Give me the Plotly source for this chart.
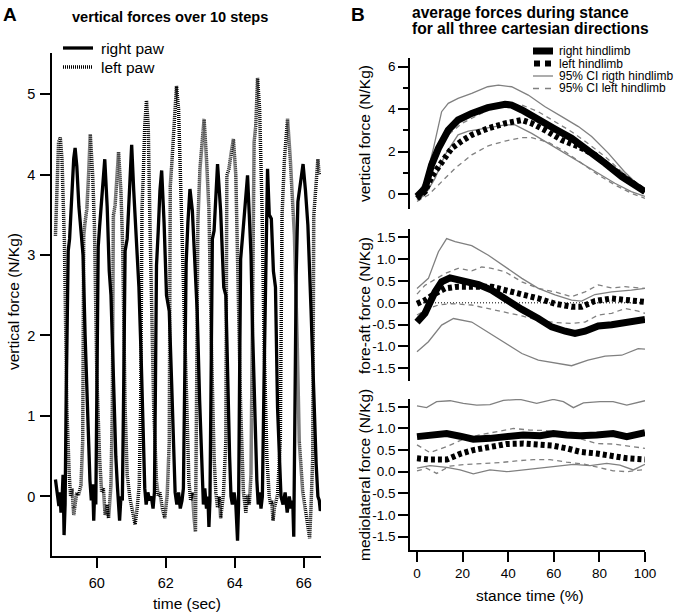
import plotly.graph_objects as go

W, H = 675, 614
FONT = "Liberation Sans, Arial, sans-serif"

# ---------------- Panel A data: vertical forces over 10 steps ----------------
right_paw_t = [58.80, 58.84, 58.87, 58.90, 58.93, 58.96, 58.99, 59.02, 59.05, 59.08,
               59.11, 59.14, 59.17, 59.21, 59.27, 59.33, 59.37, 59.42, 59.48, 59.55, 59.60, 59.66, 59.73, 59.80,
               59.84, 59.88, 59.91, 59.94, 59.97,
               60.00, 60.04, 60.08, 60.15, 60.23, 60.30, 60.36, 60.41, 60.48, 60.55, 60.60,
               60.63, 60.66, 60.70, 60.74,
               60.78, 60.82, 60.88, 60.95, 61.01, 61.07, 61.15, 61.22, 61.28, 61.34, 61.39,
               61.43, 61.48, 61.53, 61.58, 61.63, 61.67,
               61.70, 61.73, 61.78, 61.83, 61.88, 61.95, 62.02, 62.10, 62.17, 62.23, 62.27,
               62.32, 62.37, 62.42, 62.47, 62.51,
               62.55, 62.59, 62.64, 62.70, 62.77, 62.84, 62.91, 62.98, 63.05,
               63.09, 63.13, 63.18, 63.22, 63.25, 63.28,
               63.31, 63.35, 63.40, 63.45, 63.50, 63.59, 63.68, 63.74, 63.80, 63.85, 63.89,
               63.93, 63.98, 64.03, 64.08, 64.11,
               64.14, 64.17, 64.22, 64.27, 64.37, 64.42, 64.47, 64.52, 64.58, 64.64,
               64.68, 64.72, 64.76, 64.80,
               64.85, 64.90, 64.95, 65.00, 65.06, 65.12, 65.18, 65.24, 65.30, 65.34,
               65.40, 65.46, 65.52, 65.58, 65.63, 65.68, 65.71,
               65.74, 65.78, 65.83, 65.90, 65.98, 66.05, 66.12, 66.21, 66.29, 66.36, 66.41,
               66.45, 66.48, 66.50]
right_paw_v = [0.21, 0.05, -0.05, -0.12, 0.05, -0.20, -0.05, 0.27, -0.48, -0.10,
               1.20, 2.60, 3.05, 3.20, 3.70, 4.20, 4.33, 4.10, 3.60, 3.30, 3.00, 2.00, 1.00, 0.20,
               -0.05, 0.15, -0.30, 0.10, -0.10,
               1.50, 3.10, 3.35, 3.80, 4.19, 3.60, 2.80, 2.50, 1.40, 0.50, 0.10,
               -0.10, -0.30, 0.00, -0.05,
               1.40, 3.05, 3.20, 3.90, 4.37, 3.80, 3.10, 2.60, 1.80, 0.80, 0.10,
               -0.10, 0.05, -0.05, 0.00, -0.15, 0.05,
               1.40, 2.87, 3.30, 3.80, 4.05, 3.40, 2.50, 2.30, 1.40, 0.50, 0.05,
               -0.10, 0.05, -0.15, -0.05, 0.10,
               1.60, 2.90, 3.40, 3.82, 3.55, 3.00, 2.30, 1.20, 0.20,
               -0.10, 0.10, -0.15, 0.00, -0.38, -0.05,
               1.50, 3.20, 3.30, 3.80, 4.13, 3.55, 2.60, 2.50, 1.30, 0.50, 0.00,
               -0.10, 0.05, -0.10, -0.55, -0.10,
               1.50, 2.95, 3.20, 3.45, 3.99, 3.50, 3.00, 2.00, 1.00, 0.20,
               -0.10, 0.05, -0.15, 0.00,
               1.50, 2.75, 4.07, 3.50, 3.45, 2.80, 2.60, 1.10, 0.30, 0.00,
               -0.10, 0.05, -0.20, 0.00, -0.15, -0.05, -0.50,
               1.50, 2.75, 3.66, 3.90, 4.13, 3.80, 3.37, 2.33, 1.20, 0.40, 0.00,
               -0.05, -0.18, -0.12]

left_paw_t = [58.80, 58.85, 58.89, 58.94, 58.99, 59.06, 59.13, 59.20, 59.24, 59.28, 59.33, 59.37, 59.42,
              59.47, 59.54,
              59.59, 59.62, 59.66, 59.71, 59.76, 59.81, 59.88, 59.93, 60.00, 60.08, 60.14, 60.19, 60.24,
              60.29, 60.34, 60.41,
              60.45, 60.48, 60.53, 60.58, 60.63, 60.70, 60.75, 60.82, 60.88, 60.96, 61.01, 61.06, 61.11,
              61.17, 61.23,
              61.27, 61.31, 61.35, 61.39, 61.44, 61.49, 61.54, 61.60, 61.65, 61.73, 61.78, 61.83, 61.90,
              61.97, 62.04,
              62.10, 62.13, 62.17, 62.23, 62.31, 62.37, 62.45, 62.52, 62.60, 62.67, 62.72, 62.77, 62.82,
              62.86,
              62.89, 62.93, 62.99, 63.06, 63.11, 63.18, 63.25, 63.32, 63.40, 63.45, 63.50, 63.55, 63.59,
              63.67,
              63.74, 63.77, 63.83, 63.90, 63.96, 64.03, 64.10, 64.17, 64.25, 64.28, 64.32, 64.37, 64.42,
              64.47, 64.51, 64.56, 64.61, 64.66, 64.72, 64.79, 64.85, 64.93, 65.00, 65.04, 65.07, 65.11,
              65.15, 65.24,
              65.32, 65.37, 65.44, 65.53, 65.61, 65.68, 65.73, 65.81, 65.87, 65.97, 66.02, 66.07, 66.12,
              66.17, 66.21,
              66.26, 66.29, 66.36, 66.41, 66.44, 66.46]
left_paw_v = [3.24, 3.99, 4.40, 4.46, 4.19, 3.16, 1.10, 0.27, 0.00, 0.10, -0.23, -0.10, 0.05,
              0.02, 0.14,
              0.68, 3.24, 3.41, 3.57, 3.99, 4.50, 3.99, 3.37, 1.50, 0.48, 0.05, 0.10, -0.23,
              -0.10, -0.27, 0.14,
              1.10, 3.49, 3.62, 3.99, 4.28, 3.78, 3.08, 1.10, 0.27, -0.02, -0.15, -0.27, -0.35,
              -0.14, 0.14,
              1.10, 3.57, 4.03, 4.61, 4.92, 4.61, 3.41, 2.33, 1.10, 0.19, 0.00, 0.05, -0.15,
              -0.27, 0.02,
              0.68, 3.86, 4.11, 4.61, 5.10, 4.81, 3.57, 2.33, 0.89, 0.19, -0.05, 0.05, -0.27,
              -0.44,
              1.10, 3.41, 4.07, 4.40, 4.69, 4.19, 3.57, 1.92, 0.48, 0.05, -0.14, 0.00, -0.27,
              0.02,
              0.68, 3.99, 4.07, 4.28, 4.44, 3.99, 2.54, 1.10, 0.06, -0.10, -0.20, 0.02, -0.10,
              0.27, 2.75, 4.40, 4.61, 5.20, 4.81, 3.57, 1.92, 0.48, 0.00, -0.10, -0.05, -0.30,
              -0.14, 0.02,
              0.68, 3.49, 4.19, 4.69, 4.19, 3.57, 3.24, 1.92, 0.68, 0.06, -0.10, -0.23, -0.35,
              -0.52, -0.14,
              0.48, 3.49, 3.99, 4.19, 4.03, 3.99]

a_xticks = [60, 62, 64, 66]
a_yticks = [0, 1, 2, 3, 4, 5]

# ---------------- Panel B data: average forces during stance ----------------
# vertical force
vert_right_x = [0, 3.5, 6.4, 9.4, 13.7, 18, 24, 31, 38.6, 41.5, 46, 53, 60.5, 67.8, 75, 82.5, 89.8, 97, 100]
vert_right_y = [-0.1, 0.28, 1.38, 2.16, 3.02, 3.49, 3.8, 4.07, 4.23, 4.19, 3.96, 3.49, 3.07, 2.63, 2.08, 1.46, 0.83, 0.28, 0.13]
vert_right_hi_x = [0, 3.5, 7.2, 10.8, 13.7, 18, 24, 31, 35.7, 41.5, 48.8, 56, 63.5, 70.8, 76.6, 84, 91, 97, 100]
vert_right_hi_y = [-0.03, 0.6, 2.16, 3.88, 4.27, 4.5, 4.74, 5.05, 5.13, 5.05, 4.66, 4.12, 3.65, 3.18, 2.71, 1.92, 1.06, 0.44, 0.2]
vert_right_lo_x = [0, 3.5, 7.9, 12.3, 18, 22.5, 29.8, 38.6, 43, 50.3, 57.6, 65, 72.2, 79.5, 86.8, 94, 100]
vert_right_lo_y = [-0.27, -0.03, 0.75, 1.85, 2.79, 2.97, 3.1, 3.26, 3.26, 2.86, 2.39, 1.92, 1.46, 0.99, 0.52, 0.13, -0.1]
vert_left_x = [0, 3.5, 6.4, 10.8, 15.2, 19.6, 24, 31.3, 38.6, 46, 50.3, 56, 63.5, 70.8, 78, 85.4, 92.7, 100]
vert_left_y = [-0.19, 0.13, 0.83, 1.53, 2.16, 2.5, 2.79, 3.1, 3.33, 3.49, 3.33, 3.02, 2.55, 2.24, 1.85, 1.22, 0.67, 0.13]
vert_left_hi_x = [0, 5, 9.4, 13.7, 19.6, 24, 31.3, 38.6, 46, 53.2, 60.5, 67.8, 75, 82.5, 89.8, 97, 100]
vert_left_hi_y = [-0.2, 0.9, 2.0, 2.79, 3.33, 3.57, 3.96, 4.19, 4.19, 3.88, 3.41, 2.94, 2.39, 1.77, 1.06, 0.36, 0.13]
vert_left_lo_x = [0, 5, 9.4, 16.7, 24, 31.3, 38.6, 46, 50.3, 57.6, 65, 72.2, 79.5, 86.8, 94, 100]
vert_left_lo_y = [-0.34, -0.03, 0.44, 1.22, 1.85, 2.28, 2.5, 2.66, 2.66, 2.44, 2.0, 1.46, 0.91, 0.44, 0.05, -0.19]

# fore-aft force
fa_right_x = [0, 3.5, 7.9, 10.8, 14.5, 19.6, 27, 32.7, 38.6, 46, 53.2, 59, 65, 69.3, 73.7, 79.5, 85.4, 91.2, 97, 100]
fa_right_y = [-0.44, -0.24, 0.25, 0.48, 0.57, 0.52, 0.42, 0.29, 0.08, -0.15, -0.36, -0.55, -0.65, -0.7, -0.65, -0.53, -0.5, -0.44, -0.38, -0.38]
fa_right_hi_x = [0, 5, 9.4, 13, 16.7, 24, 31.3, 38.6, 46, 53.2, 60.5, 67.8, 72.2, 78, 85.4, 94, 100]
fa_right_hi_y = [0.33, 0.56, 1.17, 1.47, 1.4, 1.31, 1.09, 0.82, 0.56, 0.33, 0.18, 0.06, 0.04, 0.19, 0.25, 0.29, 0.33]
fa_right_lo_x = [0, 5, 10.8, 16, 24, 31.3, 38.6, 46, 53.2, 60.5, 67.8, 75, 82.5, 89.8, 97, 100]
fa_right_lo_y = [-1.12, -0.89, -0.51, -0.36, -0.44, -0.68, -0.93, -1.16, -1.31, -1.37, -1.44, -1.31, -1.22, -1.2, -1.05, -1.06]
fa_left_x = [0, 3.5, 7.9, 12.3, 18, 27, 32.7, 38.6, 46, 53.2, 60.5, 67.8, 72.2, 78, 85.4, 92.7, 100]
fa_left_y = [-0.02, 0.06, 0.21, 0.33, 0.37, 0.38, 0.37, 0.29, 0.21, 0.1, -0.02, -0.09, -0.09, 0.04, 0.1, 0.06, 0.02]
fa_left_hi_x = [0, 3.5, 12.3, 18, 24, 28.4, 32.7, 38.6, 46, 53.2, 60.5, 67.8, 73.7, 79.5, 85.4, 91.2, 100]
fa_left_hi_y = [0.2, 0.4, 0.67, 0.79, 0.73, 0.82, 0.79, 0.71, 0.48, 0.33, 0.25, 0.14, 0.25, 0.41, 0.34, 0.37, 0.33]
fa_left_lo_x = [0, 5, 9.4, 15.2, 24, 31.3, 38.6, 46, 53.2, 60.5, 67.8, 73.7, 79.5, 85.4, 91.2, 97, 100]
fa_left_lo_y = [-0.28, -0.13, -0.05, -0.02, -0.05, -0.13, -0.22, -0.3, -0.4, -0.45, -0.47, -0.44, -0.28, -0.24, -0.13, -0.19, -0.24]
fa_zero_x = [0, 100]
fa_zero_y = [0, 0]

# mediolateral force
ml_right_x = [0, 5.7, 13, 18.9, 24.7, 32, 39.3, 46.6, 54, 59.8, 65.6, 71.5, 78.8, 86, 92, 96.3, 100]
ml_right_y = [0.81, 0.85, 0.88, 0.82, 0.75, 0.77, 0.82, 0.85, 0.83, 0.88, 0.85, 0.83, 0.85, 0.88, 0.81, 0.85, 0.9]
ml_right_hi_x = [0, 4.2, 8.6, 14.5, 20.3, 26.2, 32, 37.9, 45.2, 52.5, 59.8, 64.2, 68.6, 73, 80.3, 86, 92, 96.3, 100]
ml_right_hi_y = [1.52, 1.48, 1.62, 1.64, 1.58, 1.54, 1.55, 1.65, 1.67, 1.58, 1.67, 1.62, 1.48, 1.59, 1.62, 1.62, 1.54, 1.59, 1.64]
ml_right_lo_x = [0, 5.7, 13, 18.9, 24.7, 32, 39.3, 46.6, 54, 61.3, 68.6, 75.9, 83.2, 89, 94.9, 100]
ml_right_lo_y = [0.08, 0.14, 0.1, 0.04, -0.05, 0.04, 0.0, 0.04, 0.08, 0.12, 0.17, 0.14, 0.19, 0.15, 0.04, 0.17]
ml_left_x = [0, 5.7, 13, 18.9, 24.7, 32, 39.3, 46.6, 54, 59.8, 65.6, 71.5, 78.8, 86, 92, 100]
ml_left_y = [0.31, 0.28, 0.28, 0.41, 0.5, 0.58, 0.64, 0.65, 0.64, 0.6, 0.54, 0.46, 0.42, 0.36, 0.31, 0.28]
ml_left_hi_x = [0, 5.7, 13, 20.3, 27.6, 35, 42.3, 49.6, 56.9, 64.2, 71.5, 78.8, 86, 93.4, 100]
ml_left_hi_y = [0.62, 0.44, 0.58, 0.75, 0.85, 0.92, 1.0, 0.96, 0.95, 0.88, 0.77, 0.65, 0.64, 0.58, 0.54]
ml_left_lo_x = [0, 4.2, 8.6, 14.5, 21.8, 29, 36.4, 43.7, 51, 58.3, 65.6, 73, 80.3, 86, 92, 100]
ml_left_lo_y = [0.02, 0.08, -0.04, 0.13, 0.17, 0.19, 0.21, 0.25, 0.28, 0.28, 0.22, 0.18, 0.1, 0.02, 0.0, 0.05]

b_xticks = [0, 20, 40, 60, 80, 100]
b_vert_ticks = [0, 2, 4, 6]
b_vert_minor = [1, 3, 5]
b_small_ticks = [-1.5, -1.0, -0.5, 0.0, 0.5, 1.0, 1.5]
b_small_ticktext = ["-1.5", "-1.0", "-0.5", "0.0", "0.5", "1.0", "1.5"]

legend_a = ["right paw", "left paw"]
legend_b = ["right hindlimb", "left hindlimb", "95% CI rigth hindlimb", "95% CI left hindlimb"]

# ---------------- helpers (pixel -> paper) ----------------
def px(x):
    return x / W

def py(y):
    return 1 - y / H

GREY = "#808080"
RIGHT_A = dict(color="black", width=3.3)
LEFT_A = dict(color="black", width=3.5, dash="1px,1px")
RIGHT_B = dict(color="black", width=7)
LEFT_B = dict(color="black", width=6, dash="4px,3px")
CI_R = dict(color=GREY, width=1.3)
CI_L = dict(color=GREY, width=1.3, dash="5px,4px")

fig = go.Figure()

# Panel A
fig.add_trace(go.Scatter(x=right_paw_t, y=right_paw_v, mode="lines", line=RIGHT_A, xaxis="x", yaxis="y"))
fig.add_trace(go.Scatter(x=left_paw_t, y=left_paw_v, mode="lines", line=LEFT_A, xaxis="x", yaxis="y"))

# Panel B
def add_set(xa, ya, sets):
    for xs, ys, ln in sets:
        fig.add_trace(go.Scatter(x=xs, y=ys, mode="lines", line=ln, xaxis=xa, yaxis=ya))

add_set("x2", "y2", [
    (vert_right_hi_x, vert_right_hi_y, CI_R), (vert_right_lo_x, vert_right_lo_y, CI_R),
    (vert_left_hi_x, vert_left_hi_y, CI_L), (vert_left_lo_x, vert_left_lo_y, CI_L),
    (vert_right_x, vert_right_y, RIGHT_B), (vert_left_x, vert_left_y, LEFT_B),
])
add_set("x3", "y3", [
    (fa_zero_x, fa_zero_y, dict(color="black", width=1, dash="1px,2px")),
    (fa_right_hi_x, fa_right_hi_y, CI_R), (fa_right_lo_x, fa_right_lo_y, CI_R),
    (fa_left_hi_x, fa_left_hi_y, CI_L), (fa_left_lo_x, fa_left_lo_y, CI_L),
    (fa_right_x, fa_right_y, RIGHT_B), (fa_left_x, fa_left_y, LEFT_B),
])
add_set("x4", "y4", [
    (ml_right_hi_x, ml_right_hi_y, CI_R), (ml_right_lo_x, ml_right_lo_y, CI_R),
    (ml_left_hi_x, ml_left_hi_y, CI_L), (ml_left_lo_x, ml_left_lo_y, CI_L),
    (ml_right_x, ml_right_y, RIGHT_B), (ml_left_x, ml_left_y, LEFT_B),
])

def axis_style(size):
    return dict(showgrid=False, zeroline=False, showline=True, linecolor="black", linewidth=1.6,
                ticks="outside", tickcolor="black", tickwidth=1.6, automargin=False,
                tickfont=dict(family=FONT, size=size, color="black"))

A_AX = axis_style(14.5)
B_AX = axis_style(13.5)

b_xdom = [px(410), px(645)]
b_xrange = [-3.07, 100]

fig.update_layout(
    template="none",
    width=W, height=H, autosize=False,
    margin=dict(l=0, r=0, t=0, b=0, pad=0, autoexpand=False),
    paper_bgcolor="white", plot_bgcolor="white", showlegend=False,
    font=dict(family=FONT, color="black"),
    xaxis=dict(domain=[px(52), px(321)], range=[58.7, 66.5], anchor="y",
               tickmode="array", tickvals=a_xticks, ticklen=10, ticklabelstandoff=3, **A_AX),
    yaxis=dict(domain=[py(556), py(53)], range=[-0.74, 5.51], anchor="x",
               tickmode="array", tickvals=a_yticks, ticklen=10, ticklabelstandoff=2, **A_AX),
    xaxis2=dict(domain=b_xdom, range=b_xrange, anchor="y2", visible=False),
    yaxis2=dict(domain=[py(209), py(58)], range=[-0.69, 6.4], anchor="x2",
                tickmode="array", tickvals=b_vert_ticks, ticklen=10,
                minor=dict(tickmode="array", tickvals=b_vert_minor, ticks="outside", ticklen=5,
                           tickwidth=1.6, tickcolor="black"),
                **B_AX),
    xaxis3=dict(domain=b_xdom, range=b_xrange, anchor="y3", visible=False),
    yaxis3=dict(domain=[py(381), py(229)], range=[-1.79, 1.69], anchor="x3",
                tickmode="array", tickvals=b_small_ticks, ticktext=b_small_ticktext, ticklen=10,
                **B_AX),
    xaxis4=dict(domain=b_xdom, range=b_xrange, anchor="y4",
                tickmode="array", tickvals=b_xticks, ticklen=10, **B_AX),
    yaxis4=dict(domain=[py(550), py(399)], range=[-1.81, 1.68], anchor="x4",
                tickmode="array", tickvals=b_small_ticks, ticktext=b_small_ticktext, ticklen=10,
                **B_AX),
)

ann = []
def text(x, y, s, size, xanchor="center", yanchor="middle", angle=0, bold=False):
    ann.append(dict(x=px(x), y=py(y), xref="paper", yref="paper", text=("<b>%s</b>" % s) if bold else s,
                    showarrow=False, xanchor=xanchor, yanchor=yanchor, textangle=angle, borderpad=0,
                    font=dict(family=FONT, size=size, color="black")))

# panel labels and titles
text(2, 14, "A", 19, xanchor="left", bold=True)
text(350, 14, "B", 19, xanchor="left", bold=True)
text(170, 17, "vertical forces over 10 steps", 14.6, bold=True)
text(411, 12, "average forces during stance", 15.6, xanchor="left", bold=True)
text(411, 28, "for all three cartesian directions", 15.6, xanchor="left", bold=True)

# axis titles
text(187, 603, "time (sec)", 15.5)
text(13, 302, "vertical force (N/Kg)", 15.5, angle=-90)
text(530, 595, "stance time (%)", 15.5)
text(364, 133, "vertical force (N/Kg)", 15.5, angle=-90)
text(364, 305, "fore-aft force (N/Kg)", 15.5, angle=-90)
text(364, 475, "mediolateral force (N/Kg)", 15.5, angle=-90)

# legend A
text(100, 48, legend_a[0], 15.5, xanchor="left")
text(100, 67, legend_a[1], 15.5, xanchor="left")
# legend B
for i, lab in enumerate(legend_b):
    text(558, 51 + 12.5 * i, lab, 12, xanchor="left")

shapes = [
    dict(type="line", xref="paper", yref="paper", x0=px(63), x1=px(93), y0=py(48), y1=py(48),
         line=dict(color="black", width=3.3)),
    dict(type="line", xref="paper", yref="paper", x0=px(63), x1=px(93), y0=py(67), y1=py(67),
         line=dict(color="black", width=3.5, dash="1px,1px")),
    dict(type="line", xref="paper", yref="paper", x0=px(533), x1=px(553), y0=py(51), y1=py(51),
         line=dict(color="black", width=7)),
    dict(type="rect", xref="paper", yref="paper", x0=px(534), x1=px(540), y0=py(66.5), y1=py(60.5),
         fillcolor="black", line=dict(width=0)),
    dict(type="rect", xref="paper", yref="paper", x0=px(545), x1=px(551), y0=py(66.5), y1=py(60.5),
         fillcolor="black", line=dict(width=0)),
    dict(type="line", xref="paper", yref="paper", x0=px(533), x1=px(553), y0=py(76), y1=py(76),
         line=dict(color=GREY, width=1.3)),
    dict(type="line", xref="paper", yref="paper", x0=px(533), x1=px(553), y0=py(88.5), y1=py(88.5),
         line=dict(color=GREY, width=1.3, dash="6px,6px")),
]

fig.update_layout(annotations=ann, shapes=shapes)
fig.write_html("out.html", config={"displayModeBar": False},
               post_script="document.body.style.margin='0px';document.body.style.overflow='hidden';"
                           "document.documentElement.style.overflow='hidden';")
